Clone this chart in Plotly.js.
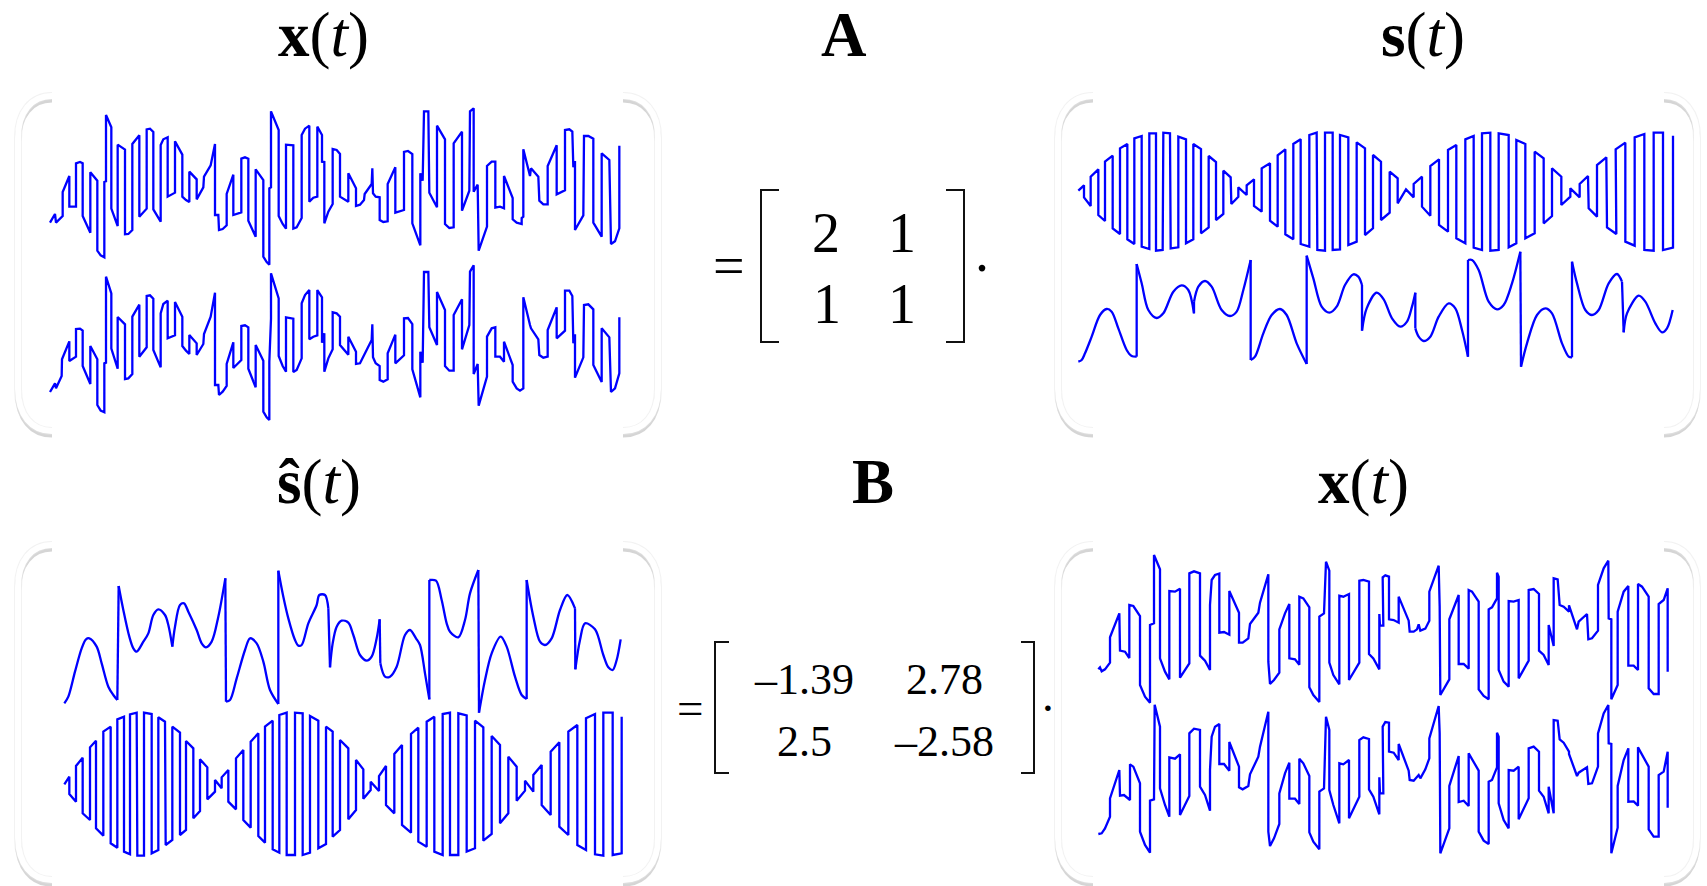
<!DOCTYPE html>
<html><head><meta charset="utf-8">
<script src="https://cdn.plot.ly/plotly-3.0.1.min.js"></script>
<style>html,body{margin:0;padding:0;background:#fff;overflow:hidden}</style>
</head><body><div id="chart" style="width:1707px;height:886px"></div>
<script>
// Signals as [time, level] pairs. Each signal comes in two stretches.
const mixTopA=[[150,428],[165,402],[168,428],[188,408],[188,336],[208,288],[208,380],[228,380],[228,250],[240,246],[248,250],[248,408],[271,458],[271,277],[292,302],[292,512],[302,526],[313,532],[313,306],[318,304],[318,105],[334,142],[334,386],[353,438],[353,194],[375,209],[375,463],[385,462],[397,450],[397,192],[418,166],[418,410],[440,386],[440,148],[450,146],[460,156],[460,388],[482,425],[482,195],[490,178],[503,172],[503,350],[525,338],[525,184],[547,224],[547,350],[558,360],[568,366],[568,275],[590,298],[590,358],[610,322],[612,290],[632,256],[645,192],[645,405],[655,405],[657,450],[668,447],[680,436],[680,342],[700,284],[700,405],[724,397],[724,236],[735,232],[745,236],[745,422],[767,470],[767,268],[790,300],[790,530],[800,546],[808,554],[808,325],[813,322],[813,94],[836,150],[836,408],[848,432],[858,446],[858,194],[880,196],[880,446],[890,442],[905,414],[905,165],[915,146],[928,137],[928,365],[940,353],[952,350],[952,140],[966,165],[966,245],[973,246],[973,430],[985,395]];
const mixTopB=[[8,372],[8,207],[20,210],[30,222],[30,350],[55,365],[55,280],[78,325],[78,378],[90,374],[102,360],[104,342],[125,312],[127,265],[129,340],[137,350],[149,352],[149,420],[160,426],[173,424],[173,312],[196,262],[196,398],[222,390],[222,216],[234,213],[247,222],[247,430],[271,496],[271,280],[278,302],[282,94],[295,94],[298,338],[321,382],[321,137],[345,178],[345,432],[358,444],[371,442],[371,190],[396,155],[396,392],[418,332],[420,94],[431,85],[431,335],[443,314],[446,512],[471,440],[471,258],[485,245],[496,245],[496,383],[510,380],[522,385],[522,288],[548,354],[548,418],[560,428],[575,432],[575,414],[580,410],[580,208],[600,288],[603,265],[625,290],[628,362],[640,373],[653,373],[653,258],[680,196],[680,343],[705,331],[705,150],[718,148],[727,155],[730,262],[735,243],[735,450],[760,406],[762,168],[775,168],[790,176],[790,428],[815,470],[815,220],[838,240],[843,492],[855,484],[868,445],[868,197]];
const mixBotA=[[150,936],[165,910],[168,925],[185,888],[186,838],[208,784],[208,843],[228,830],[228,747],[240,746],[248,752],[248,858],[271,912],[271,798],[292,838],[292,975],[302,992],[313,997],[313,850],[318,848],[318,590],[334,640],[334,806],[353,866],[353,711],[375,733],[375,897],[385,895],[397,882],[397,710],[418,674],[418,830],[440,802],[440,648],[450,646],[460,656],[460,810],[482,862],[482,700],[490,672],[503,662],[503,775],[525,766],[525,666],[547,710],[547,798],[558,812],[568,822],[568,765],[590,790],[590,825],[610,792],[612,762],[632,710],[645,638],[645,915],[655,915],[657,945],[668,935],[680,918],[680,852],[700,787],[700,864],[724,840],[724,738],[735,736],[745,742],[745,866],[767,922],[767,795],[790,842],[790,995],[800,1012],[808,1020],[808,845],[813,716],[813,580],[836,655],[836,828],[848,858],[858,875],[858,712],[880,716],[880,876],[890,870],[905,835],[905,670],[915,645],[928,630],[928,778],[940,770],[952,766],[952,630],[966,652],[966,788],[973,760],[973,875],[985,835]];
const mixBotB=[[8,808],[8,697],[20,700],[30,710],[30,795],[55,824],[55,770],[78,815],[78,852],[90,850],[102,826],[125,780],[127,733],[129,832],[137,850],[149,858],[149,900],[160,905],[173,898],[173,820],[196,764],[196,850],[222,826],[222,715],[234,714],[247,732],[247,868],[271,952],[271,815],[278,848],[282,576],[295,576],[298,742],[321,795],[321,636],[345,690],[345,858],[358,872],[371,872],[371,705],[396,658],[396,808],[418,735],[420,575],[431,556],[431,882],[443,852],[446,977],[471,890],[471,770],[485,745],[496,742],[496,830],[510,830],[522,845],[522,785],[548,855],[548,905],[560,925],[570,932],[580,925],[580,652],[600,735],[603,745],[625,778],[628,825],[640,833],[653,830],[653,750],[680,682],[680,775],[705,752],[705,632],[718,632],[727,648],[730,790],[735,763],[735,893],[760,832],[762,675],[775,673],[790,688],[790,855],[815,906],[815,745],[838,772],[843,936],[855,925],[868,880],[868,712]];

const srcSquareA=[[85,332],[102,316],[102,352],[122,378],[122,290],[145,268],[145,405],[165,423],[165,245],[188,227],[188,445],[210,462],[210,205],[232,192],[232,478],[253,492],[253,175],[275,168],[275,500],[298,507],[298,160],[318,160],[318,512],[338,510],[340,158],[360,160],[362,505],[385,502],[385,170],[408,178],[408,490],[430,478],[430,192],[453,207],[453,460],[476,442],[476,228],[498,246],[498,420],[520,402],[520,272],[542,292],[544,372],[565,350],[565,322],[590,345],[590,316],[612,298],[612,378],[635,395],[635,265],[660,250],[660,422],[683,440],[683,226],[706,208],[706,463],[730,478],[730,192],[752,178],[752,492],[778,500],[778,165],[800,158],[802,510],[825,512],[825,158],[848,158],[848,510],[870,508],[870,165],[895,172],[895,495],[920,485],[920,187],[945,205],[945,465]];
const srcSquareB=[[18,445],[18,225],[42,245],[42,420],[68,398],[68,275],[92,295],[92,370],[117,328],[140,352],[140,312],[165,290],[165,380],[190,407],[190,258],[216,238],[216,435],[243,455],[243,210],[268,195],[268,475],[295,490],[295,178],[320,168],[320,503],[345,510],[345,160],[370,158],[370,512],[395,510],[395,160],[425,165],[425,502],[448,490],[448,180],[475,192],[475,475],[503,460],[503,215],[530,235],[530,430],[555,408],[555,265],[583,290],[583,375],[610,350],[610,325],[638,352],[638,312],[663,288],[665,385],[690,410],[690,255],[718,232],[720,442],[748,462],[746,208],[775,188],[775,485],[803,497],[803,172],[832,162],[832,510],[860,512],[860,158],[888,158],[888,510],[918,503],[918,167]];
const srcSmoothA=[[85,845],[95,840],[105,820],[125,770],[150,705],[170,687],[185,695],[205,745],[230,810],[245,828],[260,830],[260,552],[275,610],[295,690],[320,714],[340,700],[370,635],[395,616],[415,630],[432,700],[432,665],[445,620],[465,603],[485,620],[515,690],[540,708],[560,695],[580,630],[602,540],[602,840],[615,830],[640,760],[665,705],[690,687],[710,705],[740,790],[770,852],[770,527],[790,595],[815,680],[838,698],[860,680],[885,615],[910,583],[925,590],[936,615],[936,752],[950,685],[980,638]];
const srcSmoothB=[[50,658],[75,715],[100,740],[120,725],[135,680],[145,638],[145,745],[155,770],[170,783],[190,770],[215,710],[245,670],[265,685],[285,750],[303,830],[303,540],[315,540],[335,570],[365,665],[390,688],[410,675],[435,610],[460,515],[462,860],[480,790],[510,705],[535,685],[555,700],[585,790],[605,830],[615,832],[615,545],[630,610],[655,690],[675,705],[695,690],[725,610],[750,582],[765,605],[770,757],[780,700],[815,647],[835,665],[865,730],[885,757],[900,745],[917,690]];

const estSmoothA=[[193,520],[205,500],[225,425],[245,355],[258,328],[268,325],[290,350],[305,400],[325,470],[340,495],[352,510],[356,168],[370,240],[388,320],[400,355],[410,365],[430,335],[445,310],[460,255],[475,238],[495,255],[505,285],[517,350],[525,290],[540,225],[552,220],[565,245],[590,300],[605,340],[618,352],[635,335],[655,260],[676,145],[678,515],[690,510],[710,445],[735,360],[750,325],[770,340],[790,395],[810,480],[835,522],[835,122],[850,200],[865,265],[885,330],[895,347],[905,345],[925,280],[950,225],[958,195],[975,195],[985,235],[990,412]];
const estSmoothB=[[8,340],[20,290],[35,272],[55,278],[70,315],[90,375],[110,392],[125,380],[140,325],[149,268],[151,400],[165,440],[180,440],[200,410],[225,315],[240,300],[258,325],[270,345],[285,430],[298,508],[298,150],[318,152],[335,210],[350,280],[360,305],[385,322],[405,270],[420,190],[445,120],[447,548],[465,450],[485,370],[512,320],[530,350],[555,440],[575,495],[590,507],[590,150],[610,260],[630,335],[645,345],[665,325],[690,240],[712,195],[735,235],[736,418],[750,330],[765,280],[795,298],[820,375],[835,412],[848,420],[860,390],[872,328]];
const estSquareA=[[193,763],[208,740],[208,792],[228,815],[228,708],[248,683],[248,850],[270,870],[270,652],[288,632],[288,895],[310,917],[310,605],[332,590],[332,940],[352,953],[352,568],[372,560],[372,965],[390,973],[390,553],[410,548],[412,977],[432,977],[432,548],[455,552],[455,970],[475,960],[475,562],[495,575],[497,945],[517,930],[517,590],[540,608],[540,915],[558,900],[558,633],[580,655],[580,865],[600,843],[600,688],[622,712],[622,808],[645,785],[645,750],[665,775],[665,742],[685,720],[685,815],[708,838],[708,685],[730,660],[730,870],[752,893],[752,635],[775,610],[775,918],[795,938],[795,590],[818,572],[818,958],[838,968],[838,555],[860,548],[860,975],[885,975],[885,548],[908,550],[908,975],[930,968],[930,558],[955,572],[955,955],[978,942],[978,590],[998,605],[998,920]];
const estSquareB=[[30,900],[30,630],[55,655],[55,868],[78,840],[78,690],[100,718],[100,806],[122,780],[122,755],[147,783],[147,738],[168,708],[168,825],[193,850],[193,672],[216,645],[216,885],[243,908],[243,612],[265,593],[265,935],[290,950],[290,575],[313,560],[313,965],[338,975],[338,552],[360,548],[360,975],[385,975],[385,550],[410,556],[410,965],[435,955],[435,572],[460,592],[460,932],[485,912],[485,618],[510,645],[510,880],[535,850],[535,680],[560,710],[560,812],[585,782],[585,752],[610,785],[610,735],[635,705],[635,825],[662,855],[662,665],[688,637],[688,890],[715,915],[715,605],[742,585],[742,945],[768,960],[768,565],[795,552],[795,973],[820,977],[820,548],[848,548],[848,975],[875,970],[875,560]];

const reTopA=[[145,418],[150,412],[155,424],[165,418],[180,398],[180,322],[208,250],[210,362],[225,365],[238,384],[238,225],[250,228],[270,258],[270,465],[285,500],[300,518],[300,285],[312,280],[312,75],[330,118],[330,385],[345,425],[358,448],[358,183],[375,185],[390,176],[390,443],[418,400],[418,130],[432,124],[450,130],[450,377],[465,392],[480,420],[480,225],[485,150],[495,135],[508,131],[508,308],[522,306],[538,314],[538,183],[567,248],[567,338],[578,338],[595,325],[600,282],[625,248],[630,218],[655,133],[655,395],[660,462],[672,450],[688,428],[688,298],[705,250],[718,222],[718,385],[735,388],[748,404],[748,200],[760,205],[778,232],[778,472],[790,495],[808,516],[808,260],[822,250],[828,95],[838,122],[838,398],[850,435],[868,463],[868,197],[880,200],[897,192],[897,450],[928,398],[928,152],[940,150],[957,155],[957,372],[970,385],[988,418],[988,252],[990,287],[1000,287]];
const reTopB=[[47,142],[55,136],[66,140],[66,268],[80,270],[95,278],[95,200],[125,272],[128,305],[140,305],[150,298],[155,283],[160,302],[175,296],[187,272],[187,185],[215,107],[218,230],[220,495],[247,448],[247,268],[275,195],[275,402],[290,402],[305,416],[305,180],[315,185],[335,215],[335,478],[350,498],[365,508],[365,238],[375,232],[390,205],[390,128],[395,140],[395,420],[410,455],[425,470],[425,213],[440,215],[455,210],[455,445],[485,392],[485,180],[500,177],[516,192],[516,362],[530,375],[545,405],[545,285],[560,348],[560,145],[572,148],[578,225],[590,230],[606,245],[606,226],[630,298],[635,275],[660,252],[664,328],[675,325],[693,302],[693,165],[710,115],[724,92],[725,265],[733,268],[733,508],[752,465],[752,245],[770,185],[784,168],[784,407],[800,407],[813,420],[813,162],[825,170],[845,200],[845,475],[860,492],[875,492],[875,222],[890,210],[902,175],[902,425]];
const reBotA=[[145,912],[155,910],[165,895],[180,860],[180,805],[208,720],[210,797],[222,795],[240,810],[240,703],[250,710],[270,760],[270,905],[285,945],[300,968],[300,812],[312,808],[314,524],[330,590],[330,775],[345,825],[358,860],[358,682],[375,686],[390,673],[390,855],[418,798],[418,610],[432,596],[450,600],[450,770],[465,795],[480,842],[480,720],[485,620],[495,590],[508,582],[508,702],[522,702],[538,722],[538,636],[567,710],[567,772],[578,778],[595,768],[600,733],[625,680],[630,650],[655,545],[655,905],[660,948],[672,925],[688,882],[688,790],[705,730],[718,698],[718,806],[735,806],[748,822],[748,686],[760,700],[778,738],[778,907],[790,935],[808,958],[808,785],[822,775],[828,560],[838,600],[838,780],[850,825],[868,880],[868,700],[880,703],[897,690],[897,865],[928,800],[928,630],[940,622],[957,627],[957,778],[970,800],[988,853],[988,742],[990,790],[1000,790]];
const reBotB=[[47,590],[55,576],[66,578],[66,665],[80,668],[95,690],[95,642],[125,722],[128,750],[140,752],[155,735],[160,745],[175,718],[187,685],[187,625],[215,528],[218,610],[220,970],[247,895],[247,768],[275,678],[275,816],[290,812],[305,828],[305,670],[335,722],[335,905],[350,932],[365,942],[365,755],[375,750],[390,712],[390,608],[395,620],[395,820],[410,870],[425,895],[425,720],[440,722],[455,710],[455,868],[485,805],[485,655],[500,650],[516,665],[516,782],[530,800],[545,850],[545,770],[560,850],[560,570],[572,572],[578,628],[590,638],[606,665],[606,672],[630,738],[635,728],[660,712],[664,762],[675,760],[693,710],[693,610],[710,550],[724,525],[725,640],[733,642],[733,970],[752,893],[752,768],[770,690],[784,655],[784,815],[800,814],[813,827],[813,652],[845,710],[845,898],[860,920],[875,920],[875,735],[890,725],[902,665],[902,833]];

const headings=['<b>x</b>(<i>t</i>)','<b>A</b>','<b>s</b>(<i>t</i>)','<b>ŝ</b>(<i>t</i>)','<b>B</b>','<b>x</b>(<i>t</i>)'];
const matrixA=['2','1','1','1'];
const matrixB=['–1.39','2.78','2.5','–2.58'];

const W=1707,H=886;
const px=x=>x/W, py=y=>1-y/H;
const BLUE='#0000ff', LW=2.3;
function join(a,b,shift){return a.concat(b.map(p=>[p[0]+shift,p[1]]));}
function signal(a,b,shift,ax,ay){
  const pts=join(a,b,shift);
  return [{x:pts.map(p=>p[0]),y:pts.map(p=>p[1]),xaxis:ax,yaxis:ay,mode:'lines',
    line:{color:BLUE,width:LW,shape:'linear'},hoverinfo:'skip',showlegend:false}];
}
// A smooth signal: curved arcs between its jumps, and straight strokes for the jumps themselves.
function smoothSignal(a,b,shift,ax,ay){
  const pts=join(a,b,shift), ax1=[],ay1=[],jx=[],jy=[];
  const steep=(p,q)=>Math.abs(q[1]-p[1])>12*Math.max(Math.abs(q[0]-p[0]),0.01);
  pts.forEach((p,i)=>{
    ax1.push(p[0]);ay1.push(p[1]);
    const n=pts[i+1], l=pts[i-1];
    if(!n)return;
    if(steep(p,n)){ax1.push(null);ay1.push(null);jx.push(p[0],n[0],null);jy.push(p[1],n[1],null);return;}
    if(l&&!steep(l,p)){
      const d1=p[1]-l[1],d2=n[1]-p[1];
      if(d1*d2<0&&Math.abs(d1)>3*Math.abs(p[0]-l[0])&&Math.abs(d2)>3*Math.abs(n[0]-p[0])){
        ax1.push(null,p[0]);ay1.push(null,p[1]);
      }
    }
  });
  return [
    {x:ax1,y:ay1,xaxis:ax,yaxis:ay,mode:'lines',line:{color:BLUE,width:LW,shape:'spline',smoothing:0.9},hoverinfo:'skip',showlegend:false},
    {x:jx,y:jy,xaxis:ax,yaxis:ay,mode:'lines',line:{color:BLUE,width:LW},hoverinfo:'skip',showlegend:false}
  ];
}
const data=[].concat(
  signal(mixTopA,mixTopB,990,'x','y'),signal(mixBotA,mixBotB,990,'x','y'),
  signal(srcSquareA,srcSquareB,951,'x2','y2'),smoothSignal(srcSmoothA,srcSmoothB,951,'x2','y2'),
  smoothSignal(estSmoothA,estSmoothB,990,'x3','y3'),signal(estSquareA,estSquareB,990,'x3','y3'),
  signal(reTopA,reTopB,951,'x4','y4'),signal(reBotA,reBotB,951,'x4','y4')
);
function axis(lo,hi,r){return {domain:[lo,hi],range:r,visible:false,fixedrange:true,showgrid:false,zeroline:false};}
const layout={width:W,height:H,margin:{l:0,r:0,t:0,b:0},paper_bgcolor:'#fff',plot_bgcolor:'rgba(0,0,0,0)',showlegend:false,
  xaxis:axis(0,px(680),[0,2040]),yaxis:axis(py(440),py(80),[1080,0]),
  xaxis2:axis(px(1050),1,[0,1971]),yaxis2:axis(py(440),py(80),[1080,0]),
  xaxis3:axis(0,px(680),[0,2040]),yaxis3:axis(0,py(530),[1068,0]),
  xaxis4:axis(px(1050),1,[0,1971]),yaxis4:axis(0,py(530),[1068,0]),
  shapes:[],annotations:[]};

function pathOf(cmds){
  return cmds.map(c=>c[0]+c.slice(1).map((v,i)=>i%2==0?px(v):py(v)).join(' ')).join(' ');
}
function addShape(cmds,color,width,op){
  layout.shapes.push({type:'path',xref:'paper',yref:'paper',layer:'below',path:pathOf(cmds),
    line:{color:color,width:width},opacity:op===undefined?1:op,fillcolor:'rgba(0,0,0,0)'});
}
function bracket(tip,edge,top,bot){
  const d=edge-tip;
  return [['M',tip,top],['C',tip+d*0.6,top,edge,top+16,edge,top+42],['L',edge,bot-42],['C',edge,bot-16,tip+d*0.6,bot,tip,bot]];
}
function frame(tip,edge,top,bot){
  const c=bracket(tip,edge,top,bot);
  const off=c.map(k=>{const o=[k[0]];for(let i=1;i<k.length;i++)o.push(i%2==1?k[i]:k[i]+3.5);return o;});
  addShape(off,'#c4c4c4',6,0.7);
  addShape(c,'#e6e6e6',8,0.5);
  addShape(c,'#ffffff',6);
}
[[96,431],[545,880]].forEach(r=>{
  frame(52,18,r[0],r[1]);frame(623,658,r[0],r[1]);
  frame(1093,1058,r[0],r[1]);frame(1664,1697,r[0],r[1]);
});
function matBracket(xl,xlTip,xr,xrTip,top,bot){
  addShape([['M',xlTip,top],['L',xl,top],['L',xl,bot],['L',xlTip,bot]],'#111',2);
  addShape([['M',xrTip,top],['L',xr,top],['L',xr,bot],['L',xrTip,bot]],'#111',2);
}
matBracket(761,779,964,946,190,342);
matBracket(715,729,1034,1021,642,773);

function label(t,x,y,size){
  layout.annotations.push({text:t,xref:'paper',yref:'paper',x:px(x),y:py(y),xanchor:'center',yanchor:'middle',
    showarrow:false,font:{family:'"Liberation Serif",serif',size:size,color:'#000'}});
}
[[323,35],[844,35],[1423,35],[319,482],[873,482],[1363,482]].forEach((p,i)=>label(headings[i],p[0],p[1],63));
const A=[[826,233],[902,233],[827,304],[902,304]];
matrixA.forEach((t,i)=>label(t,A[i][0],A[i][1],56));
const B=[[804,679],[944,679],[804,741],[944,741]];
matrixB.forEach((t,i)=>label(t,B[i][0],B[i][1],44));
label('=',729,266,56);label('=',690,708,47);
label('.',982,252,56);label('.',1048,695,47);

Plotly.newPlot('chart',data,layout,{staticPlot:true,displayModeBar:false});
</script></body></html>
